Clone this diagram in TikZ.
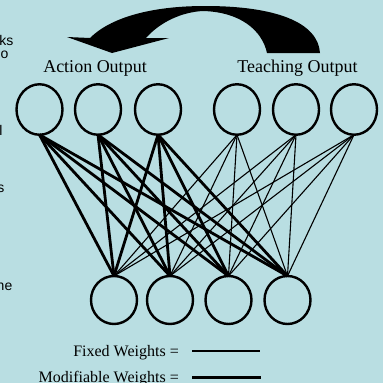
\documentclass[tikz,border=0pt]{standalone}
\usepackage{fontspec}
\setmainfont{Liberation Serif}
\newfontfamily\leftsans{Liberation Sans}
\usetikzlibrary{shapes.geometric}
\definecolor{bg}{RGB}{185,222,226}
\begin{document}
\begin{tikzpicture}[x=1pt,y=-1pt,
  topneuron/.style={draw=black, line width=2.4pt, ellipse, minimum width=46pt, minimum height=50.5pt, inner sep=0pt, outer sep=0pt},
  botneuron/.style={draw=black, line width=2.4pt, ellipse, minimum width=46pt, minimum height=48pt, inner sep=0pt, outer sep=0pt},
  modw/.style={draw=black, line width=2.8pt},
  fixw/.style={draw=black, line width=1.1pt},
  lbl/.style={font=\fontsize{18}{20}\selectfont, inner sep=0pt, anchor=base},
  leg/.style={font=\fontsize{16}{18}\selectfont, inner sep=0pt, anchor=base east},
  frag/.style={font=\leftsans\fontsize{14}{16}\selectfont, inner sep=0pt},
  bigarrow/.style={fill=black}]
\fill[bg] (0,0) rectangle (383,383);
\useasboundingbox (0,0) rectangle (383,383);

% left cut-off text fragments
\node[frag, anchor=base east] (f1) at (13.5,45) {ks};
\node[frag, anchor=base east] (f2) at (8.5,58) {o};
\node[frag, anchor=base west] (f3) at (-0.8,135) {l};
\node[frag, anchor=base east] (f4) at (4.5,192) {s};
\node[frag, anchor=base east] (f5) at (12.5,290) {ne};

% curved arrow
\path[bigarrow] (90,38) .. controls (110,18) and (150,6) .. (205,6)
  .. controls (275,6) and (318,22) .. (320,53) -- (267,53)
  .. controls (262,30) and (240,12) .. (203,11)
  .. controls (182,12) and (160,22) .. (146,38)
  -- (169,38) -- (112,53) -- (67,37) -- cycle;

% labels
\node[lbl] (la) at (95,72) {Action Output};
\node[lbl] (lt) at (297.5,72) {Teaching Output};

% neurons
\node[topneuron] (t1) at (39.5,109.5) {};
\node[topneuron] (t2) at (98,109.5) {};
\node[topneuron] (t3) at (158,109.5) {};
\node[topneuron] (t4) at (237,109.5) {};
\node[topneuron] (t5) at (296,109.5) {};
\node[topneuron] (t6) at (354,109.5) {};
\node[botneuron] (b1) at (114,300) {};
\node[botneuron] (b2) at (170,300) {};
\node[botneuron] (b3) at (228.5,300) {};
\node[botneuron] (b4) at (287.5,300) {};

% connections
\foreach \t in {t4,t5,t6}
  \foreach \b in {b1,b2,b3,b4}
    \draw[fixw] (\t.south) -- (\b.north);
\foreach \t in {t1,t2,t3}
  \foreach \b in {b1,b2,b3,b4}
    \draw[modw] (\t.south) -- (\b.north);

% legend
\node[leg] (lf) at (179,356) {Fixed Weights =};
\node[leg] (lm) at (179,382) {Modifiable Weights =};
\coordinate (fa) at (192,351);
\coordinate (fb) at (260,351);
\coordinate (ma) at (192,377);
\coordinate (mb) at (261,377);
\draw[fixw, line width=1.5pt] (fa) -- (fb);
\draw[modw, line width=3pt] (ma) -- (mb);
\end{tikzpicture}
\end{document}
